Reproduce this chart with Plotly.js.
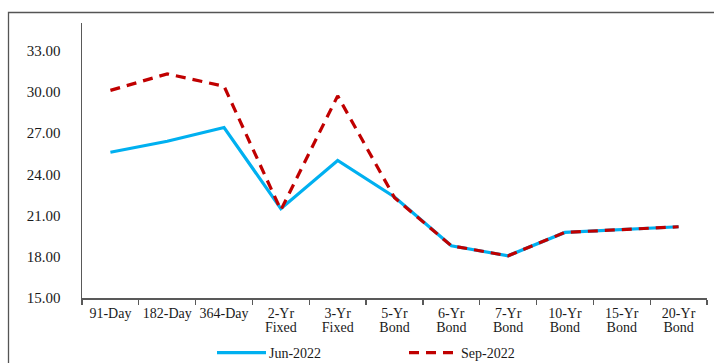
<!DOCTYPE html>
<html>
<head>
<meta charset="utf-8">
<script src="https://cdn.plot.ly/plotly-3.0.1.min.js"></script>
<style>
  html, body { margin: 0; padding: 0; background: #fff; }
  #chart { width: 714px; height: 363px; }
</style>
</head>
<body>
<div id="chart"></div>
<script>
// Tenors along the curve
const tenors = ["91-Day", "182-Day", "364-Day", "2-Yr<br>Fixed", "3-Yr<br>Fixed", "5-Yr<br>Bond",
                "6-Yr<br>Bond", "7-Yr<br>Bond", "10-Yr<br>Bond", "15-Yr<br>Bond", "20-Yr<br>Bond"];

// Yields (%) for each month
const jun2022 = [25.6, 26.4, 27.4, 21.5, 25.0, 22.35, 18.8, 18.07, 19.77, 19.96, 20.18];
const sep2022 = [30.1, 31.3, 30.4, 21.4, 29.7, 22.3, 18.8, 18.07, 19.77, 19.96, 20.18];

const seriesNames = ["Jun-2022", "Sep-2022"];

const serif = "'Liberation Serif', 'Times New Roman', serif";

const traces = [
  {
    x: tenors, y: jun2022, name: seriesNames[0], type: "scatter", mode: "lines",
    line: { color: "#00B0F0", width: 3.2 }
  },
  {
    x: tenors, y: sep2022, name: seriesNames[1], type: "scatter", mode: "lines",
    line: { color: "#C00000", width: 3.2, dash: "10px,7px" }
  }
];

const layout = {
  width: 714, height: 363,
  margin: { l: 82, r: 7, t: 23, b: 65, autoexpand: false },
  paper_bgcolor: "#fff", plot_bgcolor: "#fff",
  font: { family: serif, size: 14, color: "#1a1a1a" },
  showlegend: true,
  legend: {
    orientation: "h", x: 0.216, xanchor: "left", y: -0.2, yanchor: "middle",
    entrywidth: 147, entrywidthmode: "pixels",
    font: { family: serif, size: 14, color: "#1a1a1a" }, bgcolor: "rgba(0,0,0,0)"
  },
  xaxis: {
    type: "category", range: [-0.5, tenors.length - 0.5], automargin: false,
    showgrid: false, zeroline: false,
    showline: true, linecolor: "#595959", linewidth: 1.5,
    ticks: "outside", tickson: "boundaries", ticklen: 5, tickcolor: "#595959", tickwidth: 1.3,
    ticklabelstandoff: 2,
    tickfont: { family: serif, size: 14, color: "#1a1a1a" }, tickangle: 0,
    fixedrange: true
  },
  yaxis: {
    range: [15, 35], tick0: 15, dtick: 3, tickformat: ".2f", automargin: false,
    showgrid: false, zeroline: false,
    showline: true, linecolor: "#595959", linewidth: 1.5,
    ticks: "", ticklabelstandoff: 17,
    tickfont: { family: serif, size: 15, color: "#1a1a1a" },
    fixedrange: true
  },
  shapes: [
    // frame around the figure
    { type: "rect", xref: "paper", yref: "paper",
      x0: -0.1176, x1: 1.03, y0: -0.3, y1: 1.0382,
      line: { color: "#555", width: 1.3 }, fillcolor: "rgba(0,0,0,0)", layer: "below" }
  ]
};

Plotly.newPlot("chart", traces, layout, { displayModeBar: false, staticPlot: true }).then(gd => {
  // longer legend swatches, with the label shifted to follow them
  gd.querySelectorAll(".legend .traces").forEach(item => {
    item.querySelectorAll(".legendlines path").forEach(p => p.setAttribute("d", "M0,0h49"));
    const t = item.querySelector(".legendtext");
    if (t) t.setAttribute("x", "52");
  });
  // tighter spacing between the two lines of each tenor label
  gd.querySelectorAll(".xtick text tspan.line").forEach(ts => {
    if (ts.getAttribute("dy") && ts.getAttribute("dy") !== "0em") ts.setAttribute("dy", "1.0em");
  });
});
</script>
</body>
</html>
